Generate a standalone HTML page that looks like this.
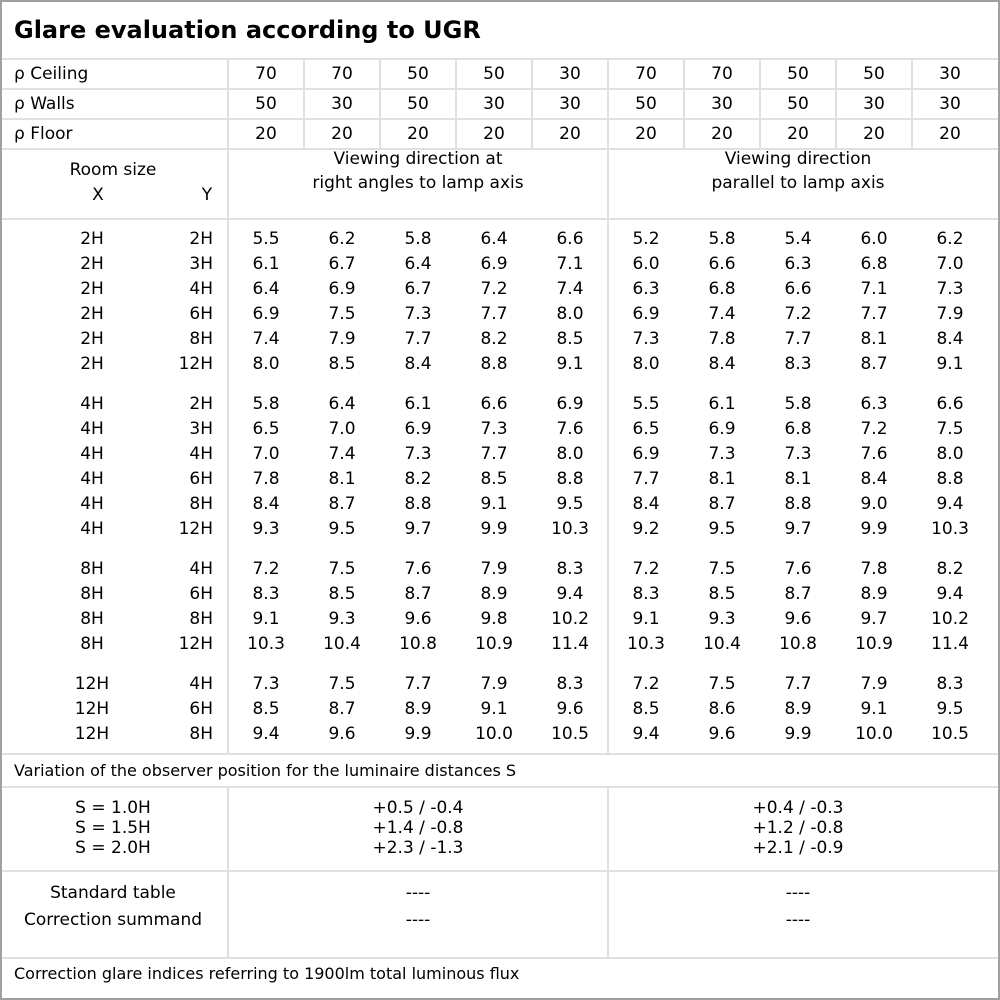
<!DOCTYPE html>
<html><head><meta charset="utf-8"><style>
body{margin:0;width:1000px;height:1000px;background:#fff;position:relative;overflow:hidden;font-family:"DejaVu Sans","Liberation Sans",sans-serif;font-size:17px;color:#000}
.b{position:absolute;left:0;top:0;width:996px;height:996px;border:2px solid #a0a0a0}
.h{position:absolute;background:#e0e0e0;height:2px}
.v{position:absolute;background:#e0e0e0;width:2px}
.t{position:absolute;white-space:nowrap;line-height:20px}
.r{position:absolute;left:0;height:25px;line-height:27px;white-space:nowrap}
.r span{position:absolute;top:0;text-align:center;width:76px}
.r span.x{left:0;width:184px}
.r span.y{left:150px;width:63px;text-align:right}
.r span:nth-child(3){left:228px}.r span:nth-child(4){left:304px}.r span:nth-child(5){left:380px}.r span:nth-child(6){left:456px}.r span:nth-child(7){left:532px}
.r span:nth-child(8){left:608px}.r span:nth-child(9){left:684px}.r span:nth-child(10){left:760px}.r span:nth-child(11){left:836px}.r span:nth-child(12){left:912px}
.c{text-align:center}
</style></head><body>
<div class="b"></div>
<div class="h" style="left:2px;width:996px;top:58px"></div>
<div class="h" style="left:2px;width:996px;top:88px"></div>
<div class="h" style="left:2px;width:996px;top:118px"></div>
<div class="h" style="left:2px;width:996px;top:148px"></div>
<div class="h" style="left:2px;width:996px;top:218px"></div>
<div class="h" style="left:2px;width:996px;top:753px"></div>
<div class="h" style="left:2px;width:996px;top:786px"></div>
<div class="h" style="left:2px;width:996px;top:870px"></div>
<div class="h" style="left:2px;width:996px;top:957px"></div>
<div class="v" style="left:227px;top:60px;height:694px"></div>
<div class="v" style="left:227px;top:788px;height:170px"></div>
<div class="v" style="left:607px;top:60px;height:694px"></div>
<div class="v" style="left:607px;top:788px;height:170px"></div>
<div class="v" style="left:303px;top:60px;height:89px"></div>
<div class="v" style="left:379px;top:60px;height:89px"></div>
<div class="v" style="left:455px;top:60px;height:89px"></div>
<div class="v" style="left:531px;top:60px;height:89px"></div>
<div class="v" style="left:683px;top:60px;height:89px"></div>
<div class="v" style="left:759px;top:60px;height:89px"></div>
<div class="v" style="left:835px;top:60px;height:89px"></div>
<div class="v" style="left:911px;top:60px;height:89px"></div>

<div class="t" style="left:14px;top:15px;font-size:24px;font-weight:bold;line-height:30px">Glare evaluation according to UGR</div>

<div class="r" style="top:61px"><span class="x" style="text-align:left;left:14px">ρ Ceiling</span><span class="y"></span><span>70</span><span>70</span><span>50</span><span>50</span><span>30</span><span>70</span><span>70</span><span>50</span><span>50</span><span>30</span></div>
<div class="r" style="top:91px"><span class="x" style="text-align:left;left:14px">ρ Walls</span><span class="y"></span><span>50</span><span>30</span><span>50</span><span>30</span><span>30</span><span>50</span><span>30</span><span>50</span><span>30</span><span>30</span></div>
<div class="r" style="top:121px"><span class="x" style="text-align:left;left:14px">ρ Floor</span><span class="y"></span><span>20</span><span>20</span><span>20</span><span>20</span><span>20</span><span>20</span><span>20</span><span>20</span><span>20</span><span>20</span></div>

<div class="t c" style="left:13px;width:200px;top:160px">Room size</div>
<div class="t c" style="left:78px;width:40px;top:185px">X</div>
<div class="t c" style="left:187px;width:40px;top:185px">Y</div>
<div class="t c" style="left:228px;width:380px;top:147px;line-height:24px">Viewing direction at<br>right angles to lamp axis</div>
<div class="t c" style="left:608px;width:380px;top:147px;line-height:24px">Viewing direction<br>parallel to lamp axis</div>

<div class="r" style="top:226px"><span class="x">2H</span><span class="y">2H</span><span>5.5</span><span>6.2</span><span>5.8</span><span>6.4</span><span>6.6</span><span>5.2</span><span>5.8</span><span>5.4</span><span>6.0</span><span>6.2</span></div>
<div class="r" style="top:251px"><span class="x">2H</span><span class="y">3H</span><span>6.1</span><span>6.7</span><span>6.4</span><span>6.9</span><span>7.1</span><span>6.0</span><span>6.6</span><span>6.3</span><span>6.8</span><span>7.0</span></div>
<div class="r" style="top:276px"><span class="x">2H</span><span class="y">4H</span><span>6.4</span><span>6.9</span><span>6.7</span><span>7.2</span><span>7.4</span><span>6.3</span><span>6.8</span><span>6.6</span><span>7.1</span><span>7.3</span></div>
<div class="r" style="top:301px"><span class="x">2H</span><span class="y">6H</span><span>6.9</span><span>7.5</span><span>7.3</span><span>7.7</span><span>8.0</span><span>6.9</span><span>7.4</span><span>7.2</span><span>7.7</span><span>7.9</span></div>
<div class="r" style="top:326px"><span class="x">2H</span><span class="y">8H</span><span>7.4</span><span>7.9</span><span>7.7</span><span>8.2</span><span>8.5</span><span>7.3</span><span>7.8</span><span>7.7</span><span>8.1</span><span>8.4</span></div>
<div class="r" style="top:351px"><span class="x">2H</span><span class="y">12H</span><span>8.0</span><span>8.5</span><span>8.4</span><span>8.8</span><span>9.1</span><span>8.0</span><span>8.4</span><span>8.3</span><span>8.7</span><span>9.1</span></div>

<div class="r" style="top:391px"><span class="x">4H</span><span class="y">2H</span><span>5.8</span><span>6.4</span><span>6.1</span><span>6.6</span><span>6.9</span><span>5.5</span><span>6.1</span><span>5.8</span><span>6.3</span><span>6.6</span></div>
<div class="r" style="top:416px"><span class="x">4H</span><span class="y">3H</span><span>6.5</span><span>7.0</span><span>6.9</span><span>7.3</span><span>7.6</span><span>6.5</span><span>6.9</span><span>6.8</span><span>7.2</span><span>7.5</span></div>
<div class="r" style="top:441px"><span class="x">4H</span><span class="y">4H</span><span>7.0</span><span>7.4</span><span>7.3</span><span>7.7</span><span>8.0</span><span>6.9</span><span>7.3</span><span>7.3</span><span>7.6</span><span>8.0</span></div>
<div class="r" style="top:466px"><span class="x">4H</span><span class="y">6H</span><span>7.8</span><span>8.1</span><span>8.2</span><span>8.5</span><span>8.8</span><span>7.7</span><span>8.1</span><span>8.1</span><span>8.4</span><span>8.8</span></div>
<div class="r" style="top:491px"><span class="x">4H</span><span class="y">8H</span><span>8.4</span><span>8.7</span><span>8.8</span><span>9.1</span><span>9.5</span><span>8.4</span><span>8.7</span><span>8.8</span><span>9.0</span><span>9.4</span></div>
<div class="r" style="top:516px"><span class="x">4H</span><span class="y">12H</span><span>9.3</span><span>9.5</span><span>9.7</span><span>9.9</span><span>10.3</span><span>9.2</span><span>9.5</span><span>9.7</span><span>9.9</span><span>10.3</span></div>

<div class="r" style="top:556px"><span class="x">8H</span><span class="y">4H</span><span>7.2</span><span>7.5</span><span>7.6</span><span>7.9</span><span>8.3</span><span>7.2</span><span>7.5</span><span>7.6</span><span>7.8</span><span>8.2</span></div>
<div class="r" style="top:581px"><span class="x">8H</span><span class="y">6H</span><span>8.3</span><span>8.5</span><span>8.7</span><span>8.9</span><span>9.4</span><span>8.3</span><span>8.5</span><span>8.7</span><span>8.9</span><span>9.4</span></div>
<div class="r" style="top:606px"><span class="x">8H</span><span class="y">8H</span><span>9.1</span><span>9.3</span><span>9.6</span><span>9.8</span><span>10.2</span><span>9.1</span><span>9.3</span><span>9.6</span><span>9.7</span><span>10.2</span></div>
<div class="r" style="top:631px"><span class="x">8H</span><span class="y">12H</span><span>10.3</span><span>10.4</span><span>10.8</span><span>10.9</span><span>11.4</span><span>10.3</span><span>10.4</span><span>10.8</span><span>10.9</span><span>11.4</span></div>

<div class="r" style="top:671px"><span class="x">12H</span><span class="y">4H</span><span>7.3</span><span>7.5</span><span>7.7</span><span>7.9</span><span>8.3</span><span>7.2</span><span>7.5</span><span>7.7</span><span>7.9</span><span>8.3</span></div>
<div class="r" style="top:696px"><span class="x">12H</span><span class="y">6H</span><span>8.5</span><span>8.7</span><span>8.9</span><span>9.1</span><span>9.6</span><span>8.5</span><span>8.6</span><span>8.9</span><span>9.1</span><span>9.5</span></div>
<div class="r" style="top:721px"><span class="x">12H</span><span class="y">8H</span><span>9.4</span><span>9.6</span><span>9.9</span><span>10.0</span><span>10.5</span><span>9.4</span><span>9.6</span><span>9.9</span><span>10.0</span><span>10.5</span></div>

<div class="t" style="left:14px;top:761px;font-size:16px">Variation of the observer position for the luminaire distances S</div>
<div class="t c" style="left:13px;width:200px;top:798px">S = 1.0H<br>S = 1.5H<br>S = 2.0H</div>
<div class="t c" style="left:228px;width:380px;top:798px">+0.5 / -0.4<br>+1.4 / -0.8<br>+2.3 / -1.3</div>
<div class="t c" style="left:608px;width:380px;top:798px">+0.4 / -0.3<br>+1.2 / -0.8<br>+2.1 / -0.9</div>
<div class="t c" style="left:13px;width:200px;top:880px;line-height:27px">Standard table<br>Correction summand</div>
<div class="t c" style="left:228px;width:380px;top:880px;line-height:27px">----<br>----</div>
<div class="t c" style="left:608px;width:380px;top:880px;line-height:27px">----<br>----</div>
<div class="t" style="left:14px;top:964px;font-size:16px">Correction glare indices referring to 1900lm total luminous flux</div>
</body></html>
